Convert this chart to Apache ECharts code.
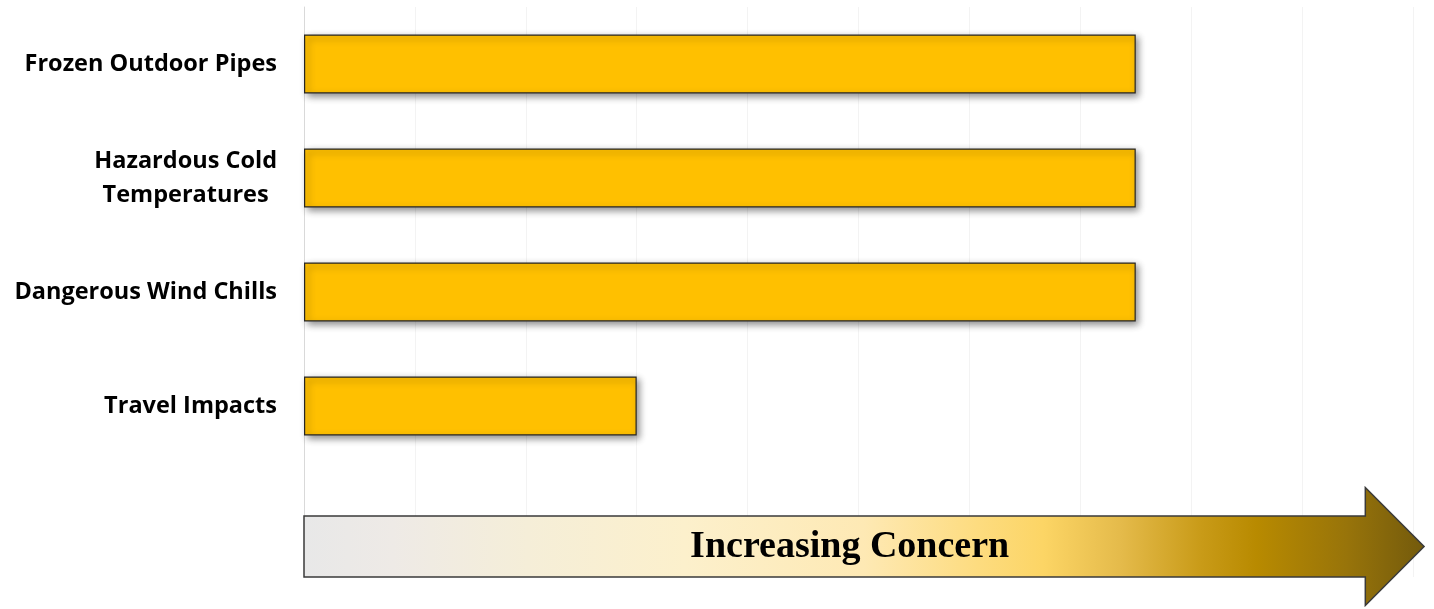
<!DOCTYPE html>
<html>
<head>
<meta charset="utf-8">
<script src="https://cdn.jsdelivr.net/npm/echarts@6/dist/echarts.min.js"></script>
<style>
html,body{margin:0;padding:0;background:#fff;}
#chart{width:1434px;height:609px;}
</style>
</head>
<body>
<div id="chart"></div>
<script>
// Data (top to bottom); the last blank category holds the "Increasing Concern" arrow
const categories = ['Frozen Outdoor Pipes', 'Hazardous Cold\nTemperatures', 'Dangerous Wind Chills', 'Travel Impacts', ''];
const concernValues = [7.5, 7.5, 7.5, 3, null];
const axisMin = 0, axisMax = 10, axisInterval = 1;
const arrowBodyEnd = 9.57;   // value where arrow head begins
const arrowTipEnd = 10.1;    // value where arrow tip lies
const arrowLabel = 'Increasing Concern';

const chart = echarts.init(document.getElementById('chart'), null, {renderer: 'canvas'});

const option = {
  animation: false,
  backgroundColor: '#ffffff',
  grid: {left: 304, right: 21, top: 7, bottom: 32, containLabel: false},
  xAxis: {
    type: 'value', min: axisMin, max: axisMax, interval: axisInterval,
    axisLabel: {show: false}, axisTick: {show: false}, axisLine: {show: false},
    splitLine: {show: true, lineStyle: {color: '#f3f3f3', width: 1}}
  },
  yAxis: {
    type: 'category', data: categories, inverse: true,
    axisTick: {show: false},
    axisLine: {show: true, lineStyle: {color: '#d9d9d9', width: 1}},
    axisLabel: {
      margin: 27,
      formatter: function (v) {
        return v.split('\n').map(s => '{c|' + s + '}').join('\n');
      },
      rich: {
        c: {
          align: 'center', fontFamily: 'Open Sans', fontWeight: 'bold',
          fontSize: 23.5, color: '#000', lineHeight: 34
        }
      }
    }
  },
  series: [{
    type: 'bar', data: concernValues, barWidth: 59,
    itemStyle: {
      color: '#FFC000', borderColor: '#262626', borderWidth: 1.2,
      shadowColor: 'rgba(0,0,0,0.45)', shadowBlur: 7, shadowOffsetX: 3, shadowOffsetY: 3
    }
  }]
};
chart.setOption(option);

// Decorative arrow positioned with the library's own scales
const x0 = chart.convertToPixel({xAxisIndex: 0}, axisMin);
const xb = chart.convertToPixel({xAxisIndex: 0}, arrowBodyEnd);
const xt = chart.convertToPixel({xAxisIndex: 0}, arrowTipEnd);
const yc = 546.5, halfBody = 30.5, halfHead = 59;
chart.setOption({
  graphic: [{
    type: 'polygon', z: 10,
    shape: {points: [[x0, yc - halfBody], [xb, yc - halfBody], [xb, yc - halfHead], [xt, yc], [xb, yc + halfHead], [xb, yc + halfBody], [x0, yc + halfBody]]},
    style: {
      fill: new echarts.graphic.LinearGradient(0, 0, 1, 0, [
        {offset: 0, color: '#e8e8e8'},
        {offset: 0.08, color: '#eeeae6'},
        {offset: 0.2, color: '#f5eed8'},
        {offset: 0.34, color: '#fcf0cc'},
        {offset: 0.5, color: '#fee9b4'},
        {offset: 0.6, color: '#fddc80'},
        {offset: 0.66, color: '#fcd565'},
        {offset: 0.73, color: '#e4ba4a'},
        {offset: 0.8, color: '#c99b18'},
        {offset: 0.85, color: '#b88a00'},
        {offset: 0.93, color: '#98740a'},
        {offset: 1, color: '#735a0c'}
      ]),
      stroke: '#3a3a3a', lineWidth: 1.5
    }
  }, {
    type: 'text', z: 11,
    x: (x0 + xb) / 2 + 15, y: yc + 1,
    style: {
      text: arrowLabel, fill: '#000', font: 'bold 38px "Liberation Serif"',
      align: 'center', verticalAlign: 'middle'
    }
  }]
});
</script>
</body>
</html>
